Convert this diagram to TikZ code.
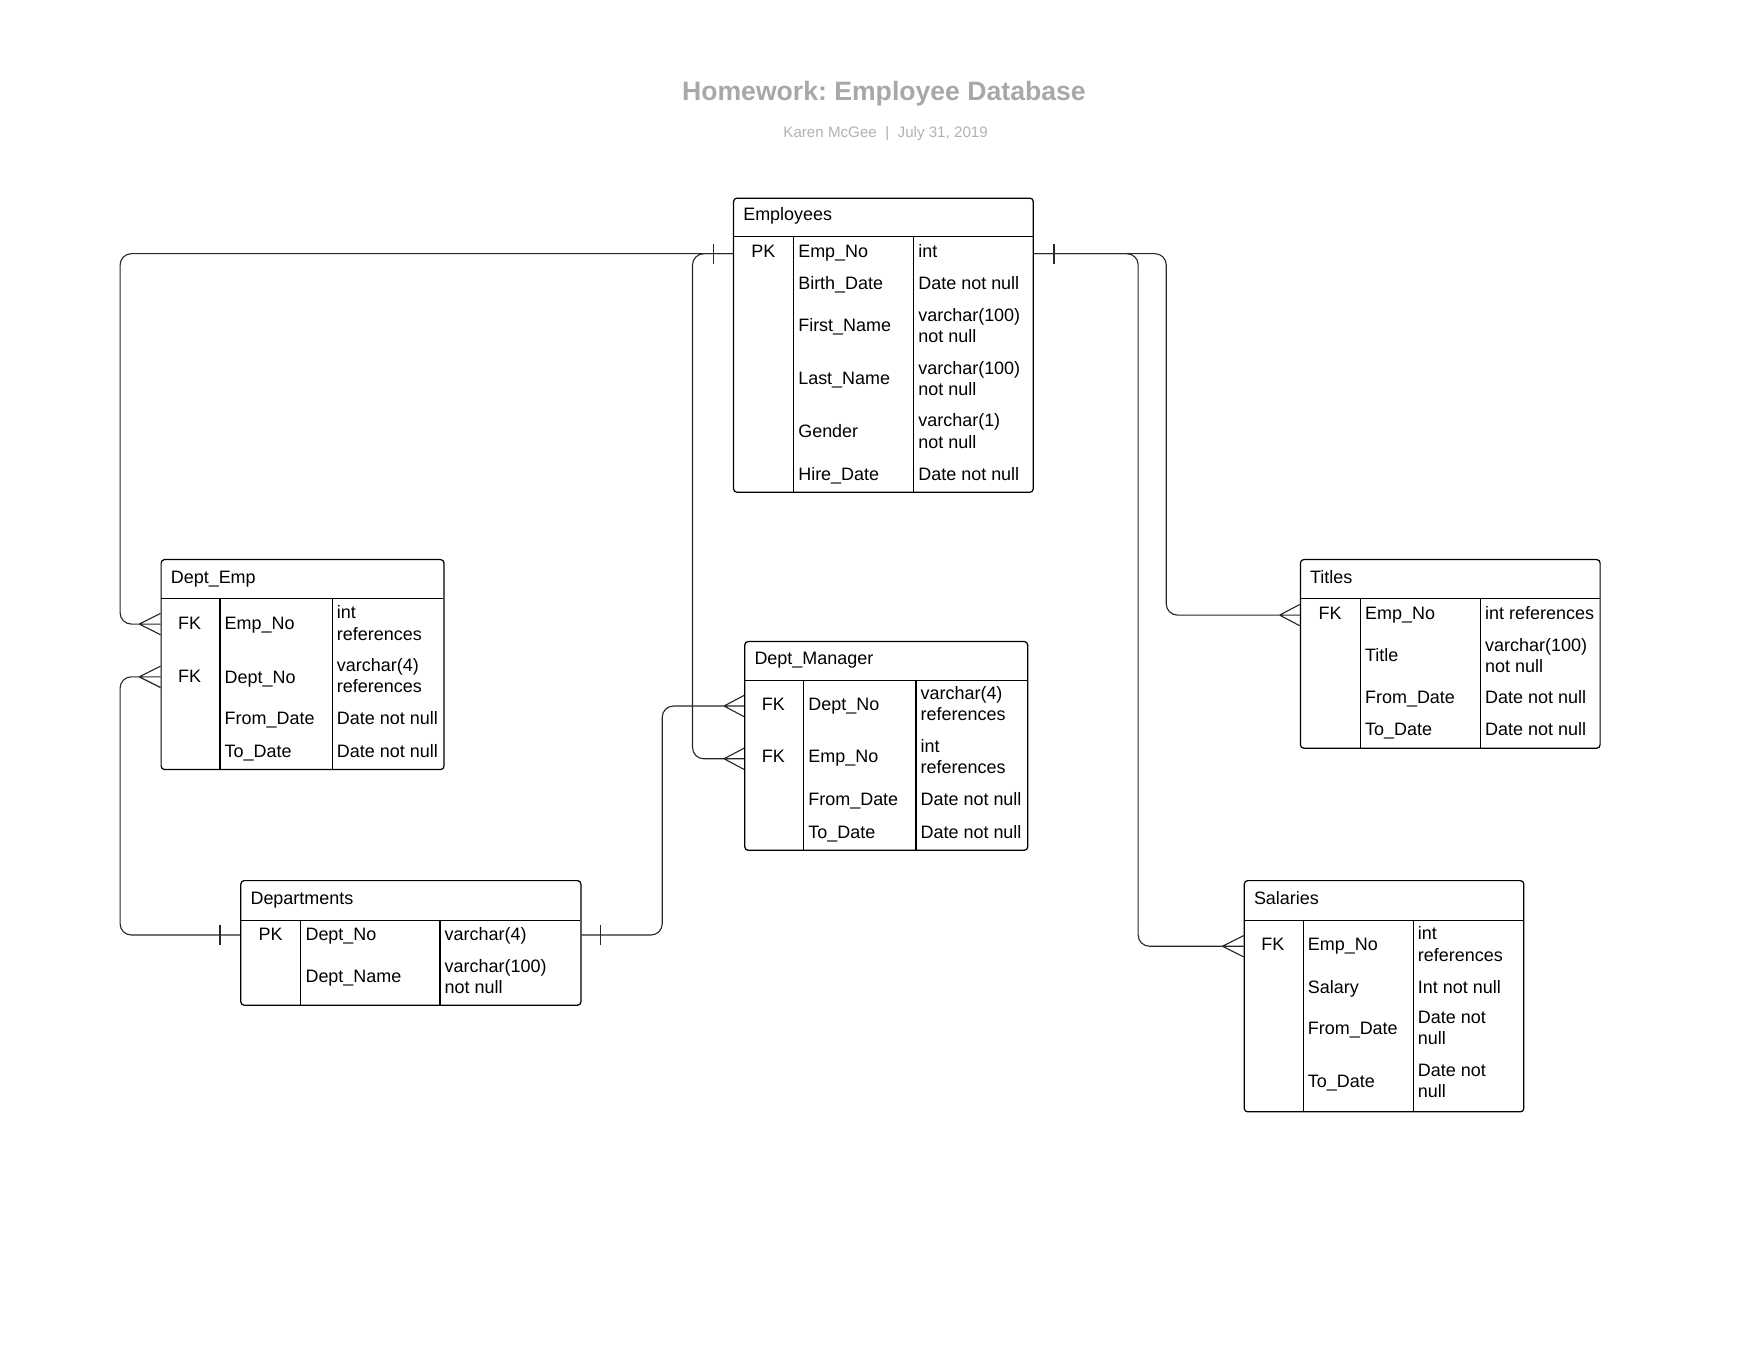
\documentclass[tikz,border=0pt]{standalone}
\usepackage{fontspec}
\setmainfont{Liberation Sans}
\frenchspacing
\definecolor{titlegray}{RGB}{168,168,168}
\definecolor{subgray}{RGB}{178,178,178}
\definecolor{linecol}{RGB}{40,40,40}
\begin{document}
\begin{tikzpicture}[x=1pt,y=-1pt,
  tbl/.style={draw=black, line width=1.1pt, rounded corners=3pt, anchor=north west, inner sep=0pt, fill=white},
  sepline/.style={line width=1.1pt, draw=black},
  cell/.style={anchor=base west, yshift=-5.7pt, inner sep=0pt, font=\fontsize{16}{19}\selectfont},
  cellii/.style={anchor=west, inner sep=0pt, align=left, font=\fontsize{16}{19}\selectfont},
  keycell/.style={anchor=base, yshift=-5.7pt, inner sep=0pt, font=\fontsize{16}{19}\selectfont},
  conn/.style={line width=1pt, draw=linecol, rounded corners=10pt},
  foot/.style={line width=1pt, draw=linecol}]
\useasboundingbox (0,0) rectangle (1568,1212);
\fill[white] (0,0) rectangle (1568,1212);

% title
\node[anchor=base, yshift=-8.5pt, inner sep=0pt, text=titlegray, font=\fontsize{23.7}{28}\selectfont\bfseries] (title) at (787.5,81) {Homework: Employee Database};
\node[anchor=base, yshift=-4.8pt, inner sep=0pt, text=subgray, font=\fontsize{13.5}{16}\selectfont] (subtitle) at (789,118) {Karen McGee\ \ |\ \ July 31, 2019};

% ---------- Employees ----------
\node[tbl, minimum width=267pt, minimum height=262pt] (E) at (653,176) {};
\draw[sepline] (653,211) -- (920,211);
\draw[sepline] (707,211) -- (707,438);
\draw[sepline] (814,211) -- (814,438);
\node[cell] (Eh) at (662,191) {Employees};
\node[keycell] (Epk) at (680,224) {PK};
\node[cell] (En1) at (711,224) {Emp\_No};
\node[cell] (En2) at (711,252) {Birth\_Date};
\node[cell] (En3) at (711,290) {First\_Name};
\node[cell] (En4) at (711,337) {Last\_Name};
\node[cell] (En5) at (711,384) {Gender};
\node[cell] (En6) at (711,422) {Hire\_Date};
\node[cell] (Et1) at (818,224) {int};
\node[cell] (Et2) at (818,252) {Date not null};
\node[cellii] (Et3) at (818,290) {varchar(100)\\not null};
\node[cellii] (Et4) at (818,337) {varchar(100)\\not null};
\node[cellii] (Et5) at (818,384) {varchar(1)\\not null};
\node[cell] (Et6) at (818,422) {Date not null};

% ---------- Dept_Emp ----------
\node[tbl, minimum width=252pt, minimum height=187pt] (DE) at (143,498) {};
\draw[sepline] (143,533) -- (395,533);
\draw[sepline] (196,533) -- (196,685);
\draw[sepline] (296,533) -- (296,685);
\node[cell] (DEh) at (152,514) {Dept\_Emp};
\node[keycell] (DEk1) at (169,555) {FK};
\node[keycell] (DEk2) at (169,602) {FK};
\node[cell] (DEn1) at (200,555) {Emp\_No};
\node[cell] (DEn2) at (200,603) {Dept\_No};
\node[cell] (DEn3) at (200,640) {From\_Date};
\node[cell] (DEn4) at (200,669) {To\_Date};
\node[cellii] (DEt1) at (300,555) {int\\references};
\node[cellii] (DEt2) at (300,602) {varchar(4)\\references};
\node[cell] (DEt3) at (300,640) {Date not null};
\node[cell] (DEt4) at (300,669) {Date not null};

% ---------- Departments ----------
\node[tbl, minimum width=303pt, minimum height=111pt] (D) at (214,784) {};
\draw[sepline] (214,820) -- (517,820);
\draw[sepline] (268,820) -- (268,895);
\draw[sepline] (392,820) -- (392,895);
\node[cell] (Dh) at (223,800) {Departments};
\node[keycell] (Dk1) at (241,832) {PK};
\node[cell] (Dn1) at (272,832) {Dept\_No};
\node[cell] (Dn2) at (272,870) {Dept\_Name};
\node[cell] (Dt1) at (396,832) {varchar(4)};
\node[cellii] (Dt2) at (396,870) {varchar(100)\\not null};

% ---------- Dept_Manager ----------
\node[tbl, minimum width=252pt, minimum height=186pt] (DM) at (663,571) {};
\draw[sepline] (663,606) -- (915,606);
\draw[sepline] (716,606) -- (716,757);
\draw[sepline] (816,606) -- (816,757);
\node[cell] (DMh) at (672,586) {Dept\_Manager};
\node[keycell] (DMk1) at (689,627) {FK};
\node[keycell] (DMk2) at (689,674) {FK};
\node[cell] (DMn1) at (720,627) {Dept\_No};
\node[cell] (DMn2) at (720,674) {Emp\_No};
\node[cell] (DMn3) at (720,712) {From\_Date};
\node[cell] (DMn4) at (720,741) {To\_Date};
\node[cellii] (DMt1) at (820,627) {varchar(4)\\references};
\node[cellii] (DMt2) at (820,674) {int\\references};
\node[cell] (DMt3) at (820,712) {Date not null};
\node[cell] (DMt4) at (820,741) {Date not null};

% ---------- Titles ----------
\node[tbl, minimum width=267pt, minimum height=168pt] (T) at (1158,498) {};
\draw[sepline] (1158,533) -- (1425,533);
\draw[sepline] (1212,533) -- (1212,666);
\draw[sepline] (1319,533) -- (1319,666);
\node[cell] (Th) at (1167,514) {Titles};
\node[keycell] (Tk1) at (1185,546) {FK};
\node[cell] (Tn1) at (1216,546) {Emp\_No};
\node[cell] (Tn2) at (1216,584) {Title};
\node[cell] (Tn3) at (1216,621) {From\_Date};
\node[cell] (Tn4) at (1216,650) {To\_Date};
\node[cell] (Tt1) at (1323,546) {int references};
\node[cellii] (Tt2) at (1323,584) {varchar(100)\\not null};
\node[cell] (Tt3) at (1323,621) {Date not null};
\node[cell] (Tt4) at (1323,650) {Date not null};

% ---------- Salaries ----------
\node[tbl, minimum width=249pt, minimum height=206pt] (S) at (1108,784) {};
\draw[sepline] (1108,820) -- (1357,820);
\draw[sepline] (1161,820) -- (1161,990);
\draw[sepline] (1259,820) -- (1259,990);
\node[cell] (Sh) at (1117,800) {Salaries};
\node[keycell] (Sk1) at (1134,841) {FK};
\node[cell] (Sn1) at (1165,841) {Emp\_No};
\node[cell] (Sn2) at (1165,879) {Salary};
\node[cell] (Sn3) at (1165,916) {From\_Date};
\node[cell] (Sn4) at (1165,963) {To\_Date};
\node[cellii] (St1) at (1263,841) {int\\references};
\node[cell] (St2) at (1263,879) {Int not null};
\node[cellii] (St3) at (1263,916) {Date not\\null};
\node[cellii] (St4) at (1263,963) {Date not\\null};

% ---------- connector reference points ----------
\coordinate (rE) at (0,226);
\coordinate (rD) at (0,833);
\coordinate (a1) at (124,556);
\coordinate (a2) at (645,676);
\coordinate (a3) at (124,603);
\coordinate (a4) at (645,629);
\coordinate (a5) at (1140,548);
\coordinate (a6) at (1089,843);

% Employees -> Dept_Emp
\draw[conn] (E.west |- rE) -- (107,226) -- (107,556) -- (a1);
\draw[foot] (a1) -- ++(19,-9.5) (a1) -- ++(19,0) (a1) -- ++(19,9.5);
% Employees -> Dept_Manager
\draw[conn] (E.west |- rE) -- (617,226) -- (617,676) -- (a2);
\draw[foot] (a2) -- ++(18,-9.5) (a2) -- ++(18,0) (a2) -- ++(18,9.5);
% tick Employees left
\draw[foot] (636,217) -- (636,235);

% Departments -> Dept_Emp
\draw[conn] (D.west |- rD) -- (107,833) -- (107,603) -- (a3);
\draw[foot] (a3) -- ++(19,-9.5) (a3) -- ++(19,0) (a3) -- ++(19,9.5);
\draw[foot] (196,824) -- (196,842);
% Departments -> Dept_Manager
\draw[conn] (D.east |- rD) -- (590,833) -- (590,629) -- (a4);
\draw[foot] (a4) -- ++(18,-9.5) (a4) -- ++(18,0) (a4) -- ++(18,9.5);
\draw[foot] (535,824) -- (535,842);

% Employees -> Titles
\draw[conn] (E.east |- rE) -- (1039,226) -- (1039,548) -- (a5);
\draw[foot] (a5) -- ++(18,-9.5) (a5) -- ++(18,0) (a5) -- ++(18,9.5);
% Employees -> Salaries
\draw[conn] (E.east |- rE) -- (1014,226) -- (1014,843) -- (a6);
\draw[foot] (a6) -- ++(19,-9.5) (a6) -- ++(19,0) (a6) -- ++(19,9.5);
% tick Employees right
\draw[foot] (939,217) -- (939,235);
\end{tikzpicture}
\end{document}
